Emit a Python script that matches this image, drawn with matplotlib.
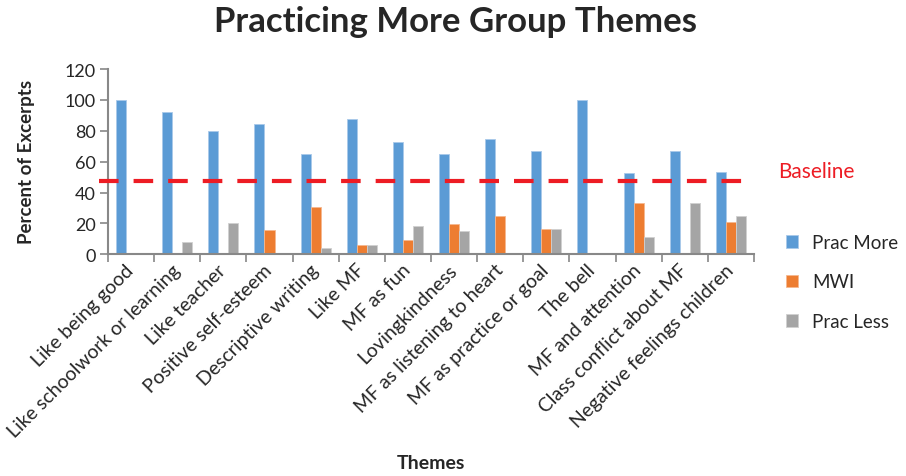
import matplotlib
matplotlib.use("Agg")
import matplotlib.pyplot as plt
import numpy as np
from matplotlib.transforms import blended_transform_factory

plt.rcParams['font.family'] = ['Lato', 'DejaVu Sans']

themes = [
    "Like being good", "Like schoolwork or learning", "Like teacher",
    "Positive self-esteem", "Descriptive writing", "Like MF", "MF as fun",
    "Lovingkindness", "MF as listening to heart", "MF as practice or goal",
    "The bell", "MF and attention", "Class conflict about MF",
    "Negative feelings children",
]
prac_more = [100, 92.3, 80, 84.2, 65.2, 87.5, 72.7, 65.2, 75, 66.7, 100, 53, 66.7, 53.5]
mwi = [0, 0, 0, 15.8, 30.4, 6.25, 9.1, 19.6, 25, 16.7, 0, 33, 0, 21]
prac_less = [0, 7.7, 20, 0, 4.3, 6.25, 18.2, 15.2, 0, 16.7, 0, 11, 33.3, 25]
baseline = 47.5
series_names = ["Prac More", "MWI", "Prac Less"]
colors = ["#5B9BD5", "#ED7D31", "#A5A5A5"]
edge_colors = ["#A9C9EA", "#F5B88F", "#D0D0D0"]

W, H = 906, 477
fig = plt.figure(figsize=(W / 100, H / 100), dpi=100)
ax = fig.add_axes([108 / W, 1 - 255.3 / H, (754 - 108) / W, (255.3 - 70.1) / H])

x = np.arange(len(themes))
bw = 0.217
for i, (vals, c, ec, name) in enumerate(zip([prac_more, mwi, prac_less], colors, edge_colors, series_names)):
    ax.bar(x + (i - 1) * bw, vals, width=bw, color=c, edgecolor=ec,
           linewidth=0.6, label=name, zorder=2)

ax.set_xlim(-0.5, len(themes) - 0.5)
ax.set_ylim(0, 120)
ax.set_yticks(range(0, 121, 20))

axis_grey = "#888888"
text_dark = "#262626"
for side in ["top", "right"]:
    ax.spines[side].set_visible(False)
for side in ["left", "bottom"]:
    ax.spines[side].set_color(axis_grey)
    ax.spines[side].set_linewidth(1.5)

ax.set_xticks(x)
ax.set_xticks(np.arange(-0.5, len(themes)), minor=True)
ax.tick_params(axis="x", which="major", length=0, pad=9)
ax.tick_params(axis="x", which="minor", length=6, width=1.2, color=axis_grey)
ax.tick_params(axis="y", length=6, width=1.2, color=axis_grey, labelsize=13,
               labelcolor=text_dark, pad=3)
ax.set_xticklabels(themes, rotation=45, ha="right", va="center",
                   rotation_mode="anchor", fontsize=14, color=text_dark)
for lbl in ax.get_xticklabels():
    lbl.set_x(lbl.get_position()[0] + 0.12)

# Baseline reference line
tr = blended_transform_factory(ax.transAxes, ax.transData)
ax.plot([-0.014, 1.0], [baseline, baseline], transform=tr, color="#ED1C24",
        linewidth=3, dashes=(4.7, 3.6), clip_on=False, zorder=3,
        solid_capstyle="butt", dash_capstyle="butt")
fig.text(778 / W, 1 - 172 / H, "Baseline", color="#ED1C24", fontsize=15,
         ha="left", va="center")

ax.set_ylabel("Percent of Excerpts", fontsize=13.5, fontweight="bold",
              color=text_dark)
ax.yaxis.set_label_coords(35 / W, 1 - 162 / H, transform=fig.transFigure)

fig.text(431 / W, 1 - 464 / H, "Themes", fontsize=14, fontweight="bold",
         color=text_dark, ha="center", va="center")
fig.text(456 / W, 1 - 22 / H, "Practicing More Group Themes", fontsize=25,
         fontweight="bold", color=text_dark, ha="center", va="center")

leg = fig.legend(loc="upper left", bbox_to_anchor=(786 / W, 1 - 235 / H),
                 frameon=False, fontsize=13.5, handlelength=0.65, handleheight=0.65,
                 handletextpad=0.75, labelspacing=1.2, borderaxespad=0,
                 borderpad=0)
for t in leg.get_texts():
    t.set_color(text_dark)

fig.savefig("out.png", dpi=100)
